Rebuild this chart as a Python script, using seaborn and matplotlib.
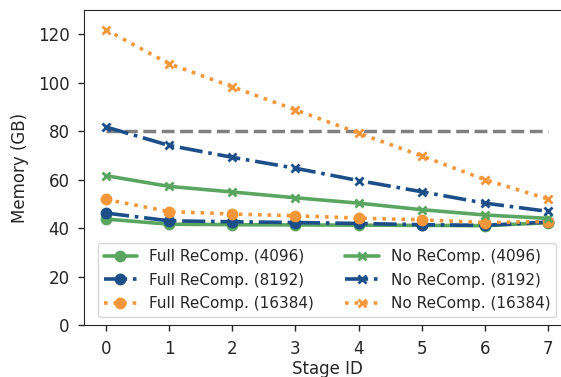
import matplotlib
matplotlib.use("Agg")
import matplotlib.pyplot as plt
import seaborn as sns
import pandas as pd

stages = [0, 1, 2, 3, 4, 5, 6, 7]
full_4096 = [43.7, 41.6, 41.4, 41.3, 41.2, 41.1, 41.0, 42.2]
full_8192 = [46.2, 43.0, 42.6, 42.3, 41.9, 41.4, 41.1, 42.5]
full_16384 = [51.8, 46.8, 45.8, 45.1, 44.1, 43.4, 42.3, 42.7]
no_4096 = [61.6, 57.2, 54.9, 52.5, 50.3, 47.6, 45.4, 44.0]
no_8192 = [81.7, 74.1, 69.2, 64.7, 59.6, 55.0, 50.3, 46.9]
no_16384 = [121.8, 107.8, 98.3, 88.8, 79.2, 69.8, 60.0, 52.0]
limit = 80

labels = ["Full ReComp. (4096)", "Full ReComp. (8192)", "Full ReComp. (16384)",
          "No ReComp. (4096)", "No ReComp. (8192)", "No ReComp. (16384)"]

sns.set_style("ticks")
plt.rcParams['font.family'] = ['DejaVu Sans']

green = "#5aa660"
blue = "#1c4e8a"
orange = "#f4973a"

fig = plt.figure(figsize=(5.61, 3.77), dpi=100)
ax = fig.add_axes([84/561, 1-325/377, (570-84)/561, (325-10)/377])

series = [full_4096, full_8192, full_16384, no_4096, no_8192, no_16384]
colors = [green, blue, orange, green, blue, orange]
styles = ["-", "-.", ":", "-", "-.", ":"]
markers = ["o", "o", "o", "x", "x", "x"]

ax.plot([stages[0], stages[-1]], [limit, limit], color="grey", linestyle="--", linewidth=2.5, zorder=1)

for vals, c, ls, m, lab in zip(series, colors, styles, markers, labels):
    df = pd.DataFrame({"Stage ID": stages, "Memory (GB)": vals})
    sns.lineplot(data=df, x="Stage ID", y="Memory (GB)", ax=ax, color=c, linestyle=ls,
                 marker=m, markersize=7.5 if m == "o" else 6, markeredgewidth=2 if m == "x" else 1,
                 markeredgecolor=c, linewidth=2.6, label=lab)

ax.set_ylim(0, 130)
ax.set_xlim(-0.35, 7.35)
ax.set_xticks(stages)
ax.set_yticks(range(0, 121, 20))
ax.tick_params(labelsize=12, length=4.5, width=1, pad=6)
ax.set_xlabel("Stage ID", fontsize=12, labelpad=2)
ax.set_ylabel("Memory (GB)", fontsize=12, labelpad=6)
ax.legend(ncol=2, loc="lower center", fontsize=11, columnspacing=2.0,
          handlelength=2.2, labelspacing=0.55, borderaxespad=0.5)

fig.savefig("out.png", dpi=100)
